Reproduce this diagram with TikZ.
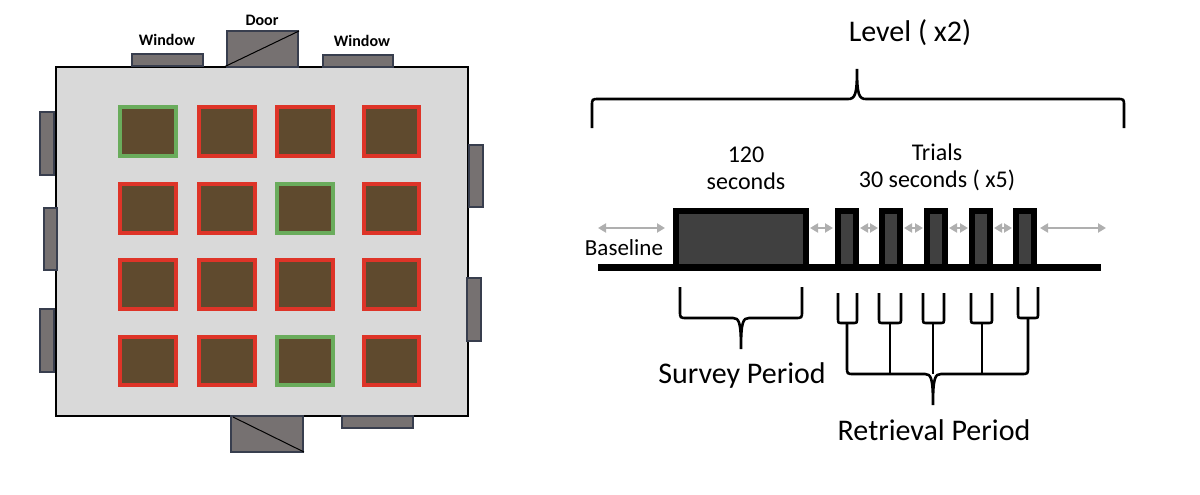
\documentclass[tikz,border=0pt]{standalone}
\usepackage{fontspec}
\setmainfont{Carlito}
\usetikzlibrary{arrows.meta}
\definecolor{roomgray}{RGB}{217,217,217}
\definecolor{wingray}{RGB}{118,113,113}
\definecolor{winedge}{RGB}{56,62,78}
\definecolor{soil}{RGB}{95,74,46}
\definecolor{redb}{RGB}{222,52,40}
\definecolor{greenb}{RGB}{106,172,92}
\definecolor{boxfill}{RGB}{64,64,64}
\definecolor{arrgray}{RGB}{175,175,175}
\begin{document}
\begin{tikzpicture}[x=1pt,y=-1pt,
  win/.style={fill=wingray,draw=winedge,line width=1.2pt},
  plotred/.style={fill=soil,draw=redb,line width=4pt},
  plotgreen/.style={fill=soil,draw=greenb,line width=4pt},
  lbl/.style={font=\fontsize{16}{19}\selectfont\bfseries,inner sep=0pt},
  big/.style={font=\fontsize{30}{36}\selectfont,inner sep=0pt},
  mid/.style={font=\fontsize{24}{27}\selectfont,inner sep=0pt,align=center},
  tbox/.style={fill=boxfill,draw=black,line width=6pt},
  brace/.style={draw=black,line width=2.6pt},
  gap/.style={draw=arrgray,line width=2pt,{Triangle[length=8pt,width=9pt]}-{Triangle[length=8pt,width=9pt]}}
]
\useasboundingbox (0,0) rectangle (1200,495);
% ---- room plan ----
\draw[fill=roomgray,draw=black,line width=1.2pt] (56,67) rectangle (468,416);
% top
\draw[win] (132,54) rectangle (203,66);
\draw[win] (227,31) rectangle (298,67);
\draw[line width=1pt] (224,67) -- (299,31);
\draw[win] (323,55) rectangle (393,67);
\node[lbl] (w1) at (167,40) {Window};
\node[lbl] (d1) at (262,20) {Door};
\node[lbl] (w2) at (362,41) {Window};
% left
\draw[win] (40,112) rectangle (54,175);
\draw[win] (44,208) rectangle (57,270);
\draw[win] (40,309) rectangle (54,372);
% right
\draw[win] (469,145) rectangle (483,207);
\draw[win] (467,278) rectangle (481,341);
% bottom
\draw[win] (231,416) rectangle (303,452);
\draw[line width=1pt] (233,417) -- (304,452);
\draw[win] (342,416) rectangle (413,428);
% plots
\foreach \ya/\yb in {105/158,182/235,258/311,335/387}
  \foreach \xa/\xb in {118/178,197/257,275/335,362/421}
    \draw[plotred] (\xa+2,\ya+2) rectangle (\xb-2,\yb-2);
\draw[plotgreen] (120,107) rectangle (176,156);
\draw[plotgreen] (277,184) rectangle (333,233);
\draw[plotgreen] (277,337) rectangle (333,385);
% ---- timeline ----
\node[big] (lvl) at (910,33) {Level ( x2)};
\draw[brace] (592,128) -- (592,106) .. controls (592,99) .. (599,99) -- (848,99)
  .. controls (855,99) and (857,95) .. (857,69)
  .. controls (857,95) and (859,99) .. (866,99) -- (1117,99)
  .. controls (1124,99) .. (1124,106) -- (1124,128);
\node[mid] (sec) at (746,168) {120\\seconds};
\node[mid] (tri) at (937,167) {Trials\\30 seconds ( x5)};
\node[font=\fontsize{23}{27}\selectfont,inner sep=0pt] (base) at (624,248) {Baseline};
\draw[tbox] (676,267) rectangle (806,211);
\foreach \x in {835,879,924,969,1013}
  \draw[tbox] (\x+3,267) rectangle (\x+21,211);
\draw[line width=7pt] (598,267) -- (1101,267);
\draw[gap] (598,228) -- (665,228);
\draw[gap] (810,228) -- (833,228);
\draw[gap] (860,228) -- (878,228);
\draw[gap] (904,228) -- (923,228);
\draw[gap] (949,228) -- (968,228);
\draw[gap] (994,228) -- (1012,228);
\draw[gap] (1040,228) -- (1106,228);
% survey brace
\draw[brace] (680,287) -- (680,311) .. controls (680,318) .. (687,318) -- (733,318)
  .. controls (739,318) and (741,322) .. (741,349)
  .. controls (741,322) and (743,318) .. (749,318) -- (795,318)
  .. controls (802,318) .. (802,311) -- (802,287);
\node[big] (sp) at (742,375) {Survey Period};
% trial brackets
\foreach \xa/\xb in {838/857,879/901,923/944,971/992}
  \draw[brace] (\xa,293) -- (\xa,318) .. controls (\xa,323) .. (\xa+4,323) -- (\xb-4,323)
    .. controls (\xb,323) .. (\xb,318) -- (\xb,293);
\draw[brace] (1018,287) -- (1018,313) .. controls (1018,318) .. (1022,318) -- (1034,318)
    .. controls (1038,318) .. (1038,313) -- (1038,287);
\draw[brace] (847,323) -- (847,367) .. controls (847,374) .. (854,374) -- (925,374)
  .. controls (931,374) and (933,378) .. (933,405)
  .. controls (933,378) and (935,374) .. (941,374) -- (1021,374)
  .. controls (1028,374) .. (1028,367) -- (1028,318);
\draw[brace] (890,323) -- (890,374);
\draw[brace] (933,323) -- (933,374);
\draw[brace] (982,323) -- (982,374);
\node[big] (rp) at (934,430) {Retrieval Period};
\end{tikzpicture}
\end{document}
